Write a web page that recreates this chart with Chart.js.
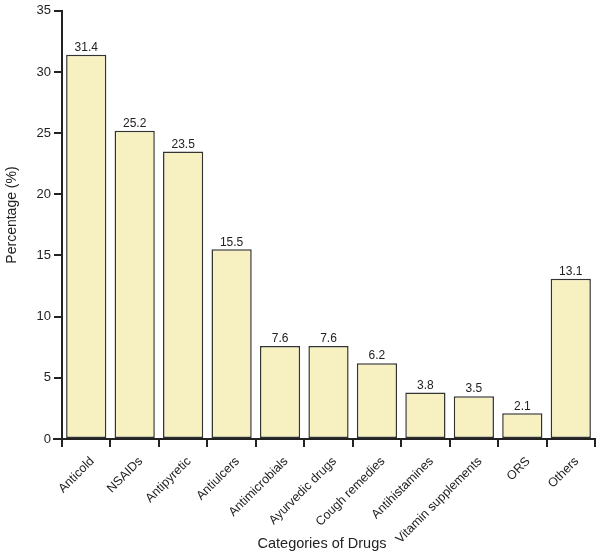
<!DOCTYPE html>
<html>
<head>
<meta charset="utf-8">
<script src="https://cdn.jsdelivr.net/npm/chart.js@4.4.1/dist/chart.umd.min.js"></script>
<style>
  html, body { margin: 0; padding: 0; background: #fff; }
  #wrap { width: 602px; height: 559px; }
</style>
</head>
<body>
<div id="wrap"><canvas id="mainChart"></canvas></div>
<script>
// Chart data
const categories = ["Anticold", "NSAIDs", "Antipyretic", "Antiulcers", "Antimicrobials",
  "Ayurvedic drugs", "Cough remedies", "Antihistamines", "Vitamin supplements", "ORS", "Others"];
const percentages = [31.4, 25.2, 23.5, 15.5, 7.6, 7.6, 6.2, 3.8, 3.5, 2.1, 13.1];
const yTicks = [0, 5, 10, 15, 20, 25, 30, 35];
const xTitle = "Categories of Drugs";
const yTitle = "Percentage (%)";

const FONT = "Liberation Sans, Arial, sans-serif";
const INK = "#222";

// value labels, axis titles and the little x axis overhang
const extras = {
  id: "extras",
  afterDatasetsDraw(chart) {
    const ctx = chart.ctx;
    const meta = chart.getDatasetMeta(0);
    ctx.save();
    ctx.fillStyle = INK;
    ctx.font = "12px " + FONT;
    ctx.textAlign = "center";
    ctx.textBaseline = "bottom";
    meta.data.forEach((bar, i) => {
      ctx.fillText(percentages[i].toFixed(1), bar.x, bar.y - 1);
    });

    const area = chart.chartArea;
    const y0 = chart.scales.y.getPixelForValue(0);
    ctx.strokeStyle = INK;
    ctx.lineWidth = 2;
    ctx.beginPath();
    ctx.moveTo(area.left - 9, y0);
    ctx.lineTo(area.left, y0);
    ctx.stroke();

    // titles
    ctx.textBaseline = "middle";
    ctx.font = "14.5px " + FONT;
    ctx.fillText(xTitle, 322, 544);
    ctx.font = "14px " + FONT;
    ctx.translate(12, 215);
    ctx.rotate(-Math.PI / 2);
    ctx.fillText(yTitle, 0, 0);
    ctx.restore();
  },
};

const ctx = document.getElementById("mainChart").getContext("2d");
new Chart(ctx, {
  type: "bar",
  data: {
    labels: categories,
    datasets: [
      {
        label: "Percentage",
        data: percentages,
        backgroundColor: "#f7f1c1",
        borderColor: "#333",
        borderWidth: 1.5,
        borderSkipped: false,
        barPercentage: 0.83,
        categoryPercentage: 1.0,
      },
    ],
  },
  options: {
    responsive: true,
    maintainAspectRatio: false,
    animation: false,
    layout: { padding: { top: 10, right: 7, left: 0, bottom: 0 } },
    plugins: {
      legend: { display: false },
      tooltip: { enabled: false },
    },
    scales: {
      y: {
        min: 0,
        max: 35,
        afterBuildTicks: (axis) => {
          axis.ticks = yTicks.map((v) => ({ value: v }));
        },
        afterFit: (scale) => {
          scale.width = 62;
        },
        border: { color: INK, width: 2 },
        grid: { drawOnChartArea: false, drawTicks: true, tickLength: 8, color: INK, lineWidth: 2 },
        ticks: { color: INK, font: { size: 13, family: FONT }, padding: 3 },
      },
      x: {
        afterFit: (scale) => {
          scale.height = 120;
        },
        border: { color: INK, width: 2 },
        grid: { drawOnChartArea: false, drawTicks: true, tickLength: 8, color: INK, lineWidth: 2 },
        ticks: {
          color: INK,
          font: { size: 12.5, family: FONT },
          minRotation: 45,
          maxRotation: 45,
          padding: 7,
          labelOffset: 6,
          autoSkip: false,
        },
      },
    },
  },
  plugins: [extras],
});
</script>
</body>
</html>
